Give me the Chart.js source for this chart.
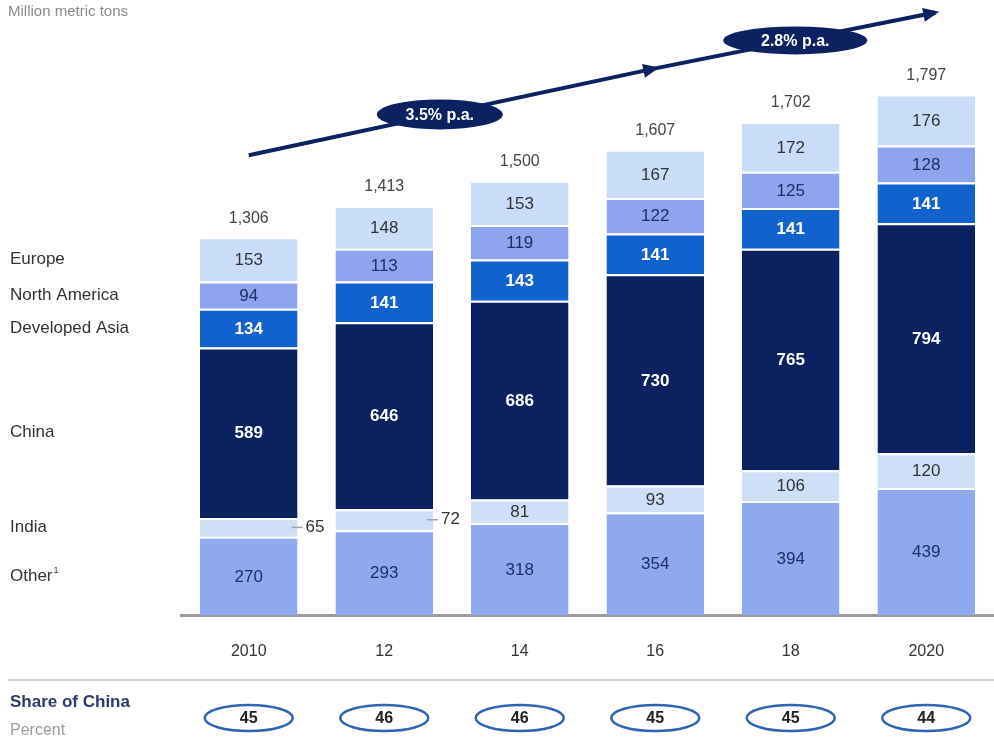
<!DOCTYPE html>
<html>
<head>
<meta charset="utf-8">
<script src="https://cdn.jsdelivr.net/npm/chart.js@4/dist/chart.umd.min.js"></script>
<style>
  html, body { margin: 0; padding: 0; background: #fff; }
</style>
</head>
<body>
<canvas id="steelChart" width="994" height="743"></canvas>
<script>
// data, bottom to top of each stack
const years = ['2010', '12', '14', '16', '18', '2020'];
const other = [270, 293, 318, 354, 394, 439];
const india = [65, 72, 81, 93, 106, 120];
const china = [589, 646, 686, 730, 765, 794];
const devAsia = [134, 141, 143, 141, 141, 141];
const northAmerica = [94, 113, 119, 122, 125, 128];
const europe = [153, 148, 153, 167, 172, 176];
const totals = ['1,306', '1,413', '1,500', '1,607', '1,702', '1,797'];
const chinaShare = [45, 46, 46, 45, 45, 44];
const growthLabels = ['3.5% p.a.', '2.8% p.a.'];

const FONT = "'Liberation Sans', Arial, sans-serif";
const NAVY = '#0b2160';

function font(size, bold) {
  return (bold ? 'bold ' : '') + size + 'px ' + FONT;
}

// labels inside / beside the segments, totals, row labels on the left
const labelsPlugin = {
  id: 'segLabels',
  afterDatasetsDraw(chart) {
    const ctx = chart.ctx;
    ctx.save();
    ctx.textAlign = 'center';
    ctx.textBaseline = 'middle';
    chart.data.datasets.forEach((ds, di) => {
      const meta = chart.getDatasetMeta(di);
      meta.data.forEach((bar, i) => {
        const v = ds.data[i];
        const cy = (bar.y + bar.base) / 2;
        if (ds.outside && ds.outside[i]) {
          const right = bar.x + bar.width / 2;
          ctx.strokeStyle = '#9aa4b8';
          ctx.lineWidth = 1.5;
          ctx.beginPath();
          ctx.moveTo(right - 6, cy);
          ctx.lineTo(right + 5, cy);
          ctx.stroke();
          ctx.fillStyle = '#333';
          ctx.font = font(17, false);
          ctx.textAlign = 'left';
          ctx.fillText(v, right + 8, cy);
          ctx.textAlign = 'center';
          return;
        }
        ctx.fillStyle = ds.textColor;
        ctx.font = font(17, ds.boldText);
        ctx.fillText(v, bar.x, cy + 1);
      });
      // row label on the left, aligned with the first bar
      const first = meta.data[0];
      const ly = (first.y + first.base) / 2;
      ctx.textAlign = 'left';
      ctx.fillStyle = '#333';
      ctx.font = font(17, false);
      ctx.fillText(ds.label, 10, ly);
      if (ds.label === 'Other') {
        const w = ctx.measureText('Other').width;
        ctx.font = font(9, false);
        ctx.fillText('1', 11 + w, ly - 5);
      }
      ctx.textAlign = 'center';
    });

    // totals above each stack
    const topMeta = chart.getDatasetMeta(chart.data.datasets.length - 1);
    ctx.fillStyle = '#444';
    ctx.font = font(16, false);
    topMeta.data.forEach((bar, i) => {
      ctx.fillText(totals[i], bar.x, bar.y - 19);
    });
    ctx.restore();
  }
};

// growth arrow, subtitle and share-of-China row
const extrasPlugin = {
  id: 'extras',
  afterDraw(chart) {
    const ctx = chart.ctx;
    const x = chart.scales.x, y = chart.scales.y;
    ctx.save();

    ctx.fillStyle = '#8a8a8a';
    ctx.font = font(15, false);
    ctx.textAlign = 'left';
    ctx.textBaseline = 'middle';
    ctx.fillText('Million metric tons', 8, 12);

    // arrow
    const p0 = { x: x.getPixelForValue(0), y: y.getPixelForValue(1588) };
    const p1 = { x: x.getPixelForValue(3), y: y.getPixelForValue(1888) };
    const p2 = { x: x.getPixelForValue(5) + 9, y: y.getPixelForValue(2081) };
    ctx.strokeStyle = NAVY;
    ctx.fillStyle = NAVY;
    ctx.lineWidth = 4;
    ctx.beginPath();
    ctx.moveTo(p0.x, p0.y);
    ctx.lineTo(p1.x, p1.y);
    ctx.lineTo(p2.x, p2.y);
    ctx.stroke();
    [[p0, p1], [p1, p2]].forEach(([a, b]) => {
      const ang = Math.atan2(b.y - a.y, b.x - a.x);
      ctx.save();
      ctx.translate(b.x, b.y);
      ctx.rotate(ang);
      ctx.beginPath();
      ctx.moveTo(4, 0);
      ctx.lineTo(-12, -7);
      ctx.lineTo(-12, 7);
      ctx.closePath();
      ctx.fill();
      ctx.restore();
    });
    // growth ellipses
    const spots = [
      { a: p0, b: p1, t: 0.47, w: 63, h: 15 },
      { a: p1, b: p2, t: 0.5, w: 72, h: 14 }
    ];
    spots.forEach((s, k) => {
      const cx = s.a.x + (s.b.x - s.a.x) * s.t;
      const cy = s.a.y + (s.b.y - s.a.y) * s.t;
      ctx.fillStyle = NAVY;
      ctx.beginPath();
      ctx.ellipse(cx, cy, s.w, s.h, 0, 0, Math.PI * 2);
      ctx.fill();
      ctx.fillStyle = '#fff';
      ctx.font = font(16, true);
      ctx.textAlign = 'center';
      ctx.fillText(growthLabels[k], cx, cy + 1);
    });

    // share of China row
    ctx.strokeStyle = '#cfcfcf';
    ctx.lineWidth = 2;
    ctx.beginPath();
    ctx.moveTo(8, 680);
    ctx.lineTo(994, 680);
    ctx.stroke();
    ctx.textAlign = 'left';
    ctx.fillStyle = '#2d3a6b';
    ctx.font = font(17, true);
    ctx.fillText('Share of China', 10, 702);
    ctx.fillStyle = '#9a9a9a';
    ctx.font = font(16, false);
    ctx.fillText('Percent', 10, 731);
    ctx.textAlign = 'center';
    chinaShare.forEach((v, i) => {
      const cx = x.getPixelForValue(i);
      ctx.fillStyle = '#fff';
      ctx.strokeStyle = '#2f64b4';
      ctx.lineWidth = 2.5;
      ctx.beginPath();
      ctx.ellipse(cx, 718, 44, 13, 0, 0, Math.PI * 2);
      ctx.fill();
      ctx.stroke();
      ctx.fillStyle = '#222';
      ctx.font = font(16, true);
      ctx.fillText(v, cx, 719);
    });
    ctx.restore();
  }
};

function series(label, data, color, textColor, boldText, outside) {
  return {
    label: label,
    data: data,
    backgroundColor: color,
    borderColor: '#ffffff',
    borderWidth: { top: 2, bottom: 0, left: 0, right: 0 },
    borderSkipped: false,
    textColor: textColor,
    boldText: boldText,
    outside: outside
  };
}

const ctx = document.getElementById('steelChart').getContext('2d');
new Chart(ctx, {
  type: 'bar',
  data: {
    labels: years,
    datasets: [
      series('Other', other, '#8fa9ef', '#1f2f66', false),
      series('India', india, '#cde0f8', '#333', false, [true, true, false, false, false, false]),
      series('China', china, NAVY, '#fff', true),
      series('Developed Asia', devAsia, '#1162cc', '#fff', true),
      series('North America', northAmerica, '#8fa4ee', '#1f2f66', false),
      series('Europe', europe, '#c9ddf8', '#333', false)
    ]
  },
  options: {
    responsive: false,
    animation: false,
    layout: { padding: { left: 181, right: 0, top: 7, bottom: 0 } },
    datasets: { bar: { categoryPercentage: 1, barPercentage: 0.72 } },
    plugins: {
      legend: { display: false },
      tooltip: { enabled: false },
      title: { display: false }
    },
    scales: {
      x: {
        stacked: true,
        grid: { display: false },
        border: { display: true, color: '#9a9a9a', width: 3 },
        ticks: { color: '#333', font: { size: 16, family: FONT }, padding: 19 },
        afterFit(scale) { scale.height = 128; }
      },
      y: {
        stacked: true,
        display: false,
        min: 0,
        max: 2100
      }
    }
  },
  plugins: [labelsPlugin, extrasPlugin]
});
</script>
</body>
</html>
